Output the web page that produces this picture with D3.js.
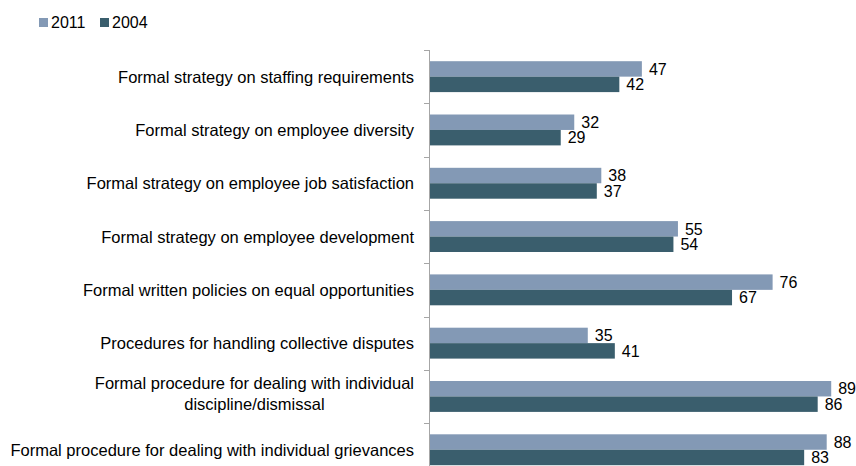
<!DOCTYPE html>
<html>
<head>
<meta charset="utf-8">
<script src="https://cdn.jsdelivr.net/npm/d3@7"></script>
<style>
  html, body { margin: 0; padding: 0; background: #fff; }
  svg { display: block; font-family: "Liberation Sans", Arial, sans-serif; }
</style>
</head>
<body>
<svg id="chart" width="856" height="466"></svg>
<script>
// Share of workplaces with each practice (%)
const categories = [
  ["Formal strategy on staffing requirements"],
  ["Formal strategy on employee diversity"],
  ["Formal strategy on employee job satisfaction"],
  ["Formal strategy on employee development"],
  ["Formal written policies on equal opportunities"],
  ["Procedures for handling collective disputes"],
  ["Formal procedure for dealing with individual", "discipline/dismissal"],
  ["Formal procedure for dealing with individual grievances"]
];
const seriesNames = ["2011", "2004"];
const values2011 = [47, 32, 38, 55, 76, 35, 89, 88];
const values2004 = [42, 29, 37, 54, 67, 41, 86, 83];

const colors = { "2011": "#8399B5", "2004": "#3A5E6D" };

const svg = d3.select("#chart");
const axisX = 430;
const plotTop = 50;
const step = 53.3;
const labelSize = 16.5;
const valueSize = 16;

const keys = categories.map((c, i) => i);
const y = d3.scaleBand()
  .domain(keys)
  .range([plotTop, plotTop + step * categories.length])
  .paddingInner(0).paddingOuter(0);

const yInner = d3.scaleBand()
  .domain(seriesNames)
  .range([11.2, step - 11.2]);

const x = d3.scaleLinear().domain([0, 100]).range([axisX, axisX + 450.8]);

const data = categories.map((c, i) => ({
  label: c,
  i,
  vals: [
    { key: "2011", v: values2011[i] },
    { key: "2004", v: values2004[i] }
  ]
}));

// bars and value labels
const groups = svg.append("g").selectAll("g")
  .data(data).join("g")
  .attr("transform", d => `translate(0,${y(d.i)})`);

groups.selectAll("rect")
  .data(d => d.vals).join("rect")
  .attr("x", x(0))
  .attr("y", d => yInner(d.key))
  .attr("width", d => x(d.v) - x(0))
  .attr("height", yInner.bandwidth())
  .attr("fill", d => colors[d.key]);

groups.selectAll("text.val")
  .data(d => d.vals).join("text")
  .attr("class", "val")
  .attr("x", d => x(d.v) + 7)
  .attr("y", d => yInner(d.key) + yInner.bandwidth() / 2)
  .attr("dy", "0.36em")
  .attr("font-size", valueSize)
  .attr("fill", "#000")
  .text(d => d.v);

// category axis
const axis = svg.append("g");
axis.append("line")
  .attr("x1", axisX - 0.5).attr("x2", axisX - 0.5)
  .attr("y1", y.range()[0]).attr("y2", y.range()[1])
  .attr("stroke", "#A6A6A6").attr("stroke-width", 1);

axis.selectAll("line.tick")
  .data(d3.range(categories.length + 1)).join("line")
  .attr("class", "tick")
  .attr("x1", axisX - 6).attr("x2", axisX)
  .attr("y1", d => Math.round(plotTop + d * step) + 0.5)
  .attr("y2", d => Math.round(plotTop + d * step) + 0.5)
  .attr("stroke", "#A6A6A6");

const labels = axis.selectAll("text.cat")
  .data(data).join("text")
  .attr("class", "cat")
  .attr("font-size", labelSize)
  .attr("fill", "#000")
  .attr("text-anchor", "end")
  .attr("transform", d => `translate(${axisX - 16},${y(d.i) + y.bandwidth() / 2})`);

labels.each(function(d) {
  const t = d3.select(this);
  const n = d.label.length;
  if (n === 1) {
    t.append("tspan").attr("x", 0).attr("dy", "0.36em").text(d.label[0]);
  } else {
    // multi-line label: lines centred on each other, block right-aligned
    t.attr("text-anchor", "middle");
    const lh = 20.5;
    const tmp = t.append("tspan").text(d.label[0]);
    const w = tmp.node().getComputedTextLength();
    tmp.remove();
    d.label.forEach((line, k) => {
      t.append("tspan")
        .attr("x", -w / 2)
        .attr("y", (k - (n - 1) / 2) * lh - 3)
        .attr("dy", "0.36em")
        .text(line);
    });
  }
});

// legend
const legend = svg.append("g").attr("transform", "translate(39,18)");
const li = legend.selectAll("g").data(seriesNames).join("g")
  .attr("transform", (d, i) => `translate(${i * 61},0)`);
li.append("rect").attr("width", 9).attr("height", 9).attr("fill", d => colors[d]);
li.append("text").attr("x", 12).attr("y", 4.5).attr("dy", "0.36em")
  .attr("font-size", 16).attr("fill", "#000").text(d => d);
</script>
</body>
</html>
